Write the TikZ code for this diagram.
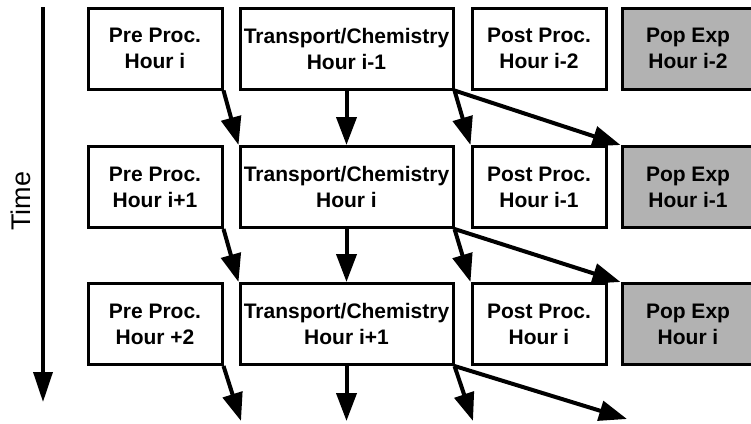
\documentclass[tikz,border=0pt]{standalone}
\usepackage{fontspec}
\setmainfont{Liberation Sans}
\usetikzlibrary{arrows.meta}
\begin{document}
\begin{tikzpicture}[x=1pt,y=-1pt,
  box/.style={draw, line width=3pt, minimum height=81pt, inner sep=0pt, align=center,
    font=\fontsize{21}{26}\selectfont\bfseries},
  prebox/.style={box, minimum width=134pt},
  tcbox/.style={box, minimum width=213pt},
  postbox/.style={box, minimum width=134pt},
  popbox/.style={box, minimum width=132pt, fill=black!30},
  conn/.style={line width=4pt, -{Triangle[length=28pt,width=20pt]}},
  timearrow/.style={line width=3.5pt, -{Triangle[length=30pt,width=19pt]}}
]
\useasboundingbox (0,0) rectangle (751,423);

% row 1
\node[prebox]  (pre1)  at (155,48.5)   {Pre Proc.\\Hour i};
\node[tcbox]   (tc1)   at (346.5,48.5) {Transport/Chemistry\\Hour i-1};
\node[postbox] (post1) at (539,48.5)   {Post Proc.\\Hour i-2};
\node[popbox]  (pop1)  at (688,48.5)   {Pop Exp\\Hour i-2};
% row 2
\node[prebox]  (pre2)  at (155,187)    {Pre Proc.\\Hour i+1};
\node[tcbox]   (tc2)   at (346.5,187)  {Transport/Chemistry\\Hour i};
\node[postbox] (post2) at (539,187)    {Post Proc.\\Hour i-1};
\node[popbox]  (pop2)  at (688,187)    {Pop Exp\\Hour i-1};
% row 3
\node[prebox]  (pre3)  at (155,324)    {Pre Proc.\\Hour +2};
\node[tcbox]   (tc3)   at (346.5,324)  {Transport/Chemistry\\Hour i+1};
\node[postbox] (post3) at (539,324)    {Post Proc.\\Hour i};
\node[popbox]  (pop3)  at (688,324)    {Pop Exp\\Hour i};

% time axis
\coordinate (ttop) at (43,7);
\coordinate (tbot) at (43,402);
\draw[timearrow] (ttop) -- (tbot);
\node[rotate=90, font=\fontsize{27}{30}\selectfont] (time) at (21,201) {Time};

% row 1 -> row 2
\draw[conn] (pre1.south east) -- (tc2.north west);
\draw[conn] (tc1.south) -- (tc2.north);
\draw[conn] (tc1.south east) -- (post2.north west);
\draw[conn] (tc1.south east) -- (pop2.north west);
% row 2 -> row 3
\draw[conn] (pre2.south east) -- (tc3.north west);
\draw[conn] (tc2.south) -- (tc3.north);
\draw[conn] (tc2.south east) -- (post3.north west);
\draw[conn] (tc2.south east) -- (pop3.north west);
% row 3 -> next
\coordinate (n1) at (241,421);
\coordinate (n2) at (346.5,421);
\coordinate (n3) at (473,421);
\coordinate (n4) at (627,419);
\draw[conn] (pre3.south east) -- (n1);
\draw[conn] (tc3.south) -- (n2);
\draw[conn] (tc3.south east) -- (n3);
\draw[conn] (tc3.south east) -- (n4);
\end{tikzpicture}
\end{document}
